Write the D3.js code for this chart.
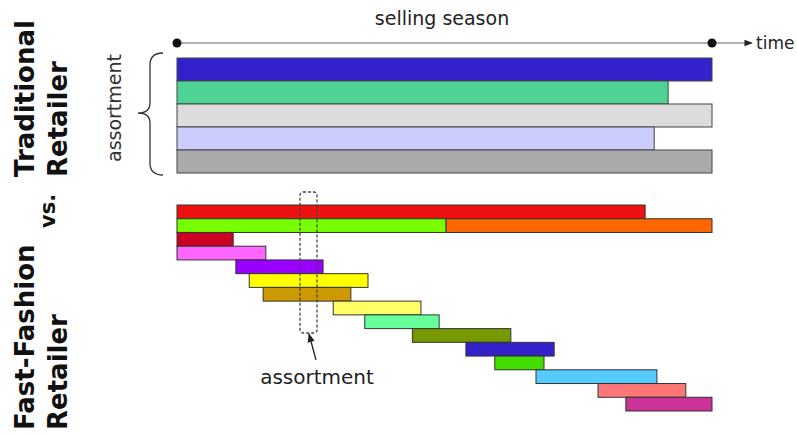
<!DOCTYPE html>
<html>
<head>
<meta charset="utf-8">
<script src="https://cdn.jsdelivr.net/npm/d3@7"></script>
<style>
  body { margin: 0; background: #fff; }
  svg { display: block; font-family: "DejaVu Sans", Verdana, sans-serif; }
</style>
</head>
<body>
<div id="chart"></div>
<script>
// time runs 0..100 across the selling season
var tradStart = [0, 0, 0, 0, 0];
var tradEnd = [100, 91.8, 100, 89.2, 100];
var tradColors = ["#3322cc", "#4fd394", "#dcdcdc", "#ccccff", "#aaaaaa"];

// fast-fashion rows: one or two items per row
var fastRow = [0, 1, 1, 2, 3, 4, 5, 6, 7, 8, 9, 10, 11, 12, 13, 14];
var fastStart = [0, 0, 50.3, 0, 0, 11, 13.5, 16.1, 29.2, 35.1, 44, 54, 59.4, 67.1, 78.7, 83.9];
var fastEnd = [87.5, 50.3, 100, 10.5, 16.6, 27.3, 35.7, 32.5, 45.6, 49, 62.4, 70.5, 68.6, 89.7, 95.1, 100];
var fastColors = ["#ee1111", "#77ff00", "#ff6600", "#cc0022", "#ff66ff", "#9900ff", "#ffff00",
    "#cc9900", "#ffff66", "#66ff99", "#779900", "#3322cc", "#44dd00", "#55ccff", "#ff7777", "#cc3399"];

const W = 797, H = 434;
var svg = d3.select("#chart").append("svg")
    .attr("width", W)
    .attr("height", H);

var x = d3.scaleLinear().domain([0, 100]).range([177, 712]);
var yTrad = d3.scaleBand().domain(d3.range(5)).range([58, 173]);
var yFast = d3.scaleBand().domain(d3.range(15)).range([205, 411]);

// timeline
svg.append("defs").append("marker")
    .attr("id", "arr")
    .attr("viewBox", "0 0 10 10")
    .attr("refX", 9).attr("refY", 5)
    .attr("markerWidth", 7).attr("markerHeight", 7)
    .attr("orient", "auto")
    .append("path").attr("d", "M0,1L10,5L0,9Z").attr("fill", "#222");

svg.append("line")
    .attr("x1", x(0)).attr("x2", 752)
    .attr("y1", 43).attr("y2", 43)
    .attr("stroke", "#666").attr("stroke-width", 1.2)
    .attr("marker-end", "url(#arr)");
svg.selectAll(".dot").data([0, 100]).enter().append("circle")
    .attr("cx", function(d) { return x(d); })
    .attr("cy", 43).attr("r", 4.5).attr("fill", "#111");

svg.append("text").attr("x", 442).attr("y", 25)
    .attr("text-anchor", "middle").attr("font-size", 19).attr("fill", "#222")
    .text("selling season");
svg.append("text").attr("x", 756).attr("y", 49)
    .attr("font-size", 17).attr("fill", "#222")
    .text("time");

// traditional bars
svg.selectAll(".trad").data(tradEnd).enter().append("rect")
    .attr("class", "trad")
    .attr("x", function(d, i) { return x(tradStart[i]); })
    .attr("y", function(d, i) { return yTrad(i); })
    .attr("width", function(d, i) { return x(d) - x(tradStart[i]); })
    .attr("height", yTrad.bandwidth())
    .attr("fill", function(d, i) { return tradColors[i]; })
    .attr("stroke", "#444").attr("stroke-width", 1);

// brace
var bx = 163, bt = 53, bb = 175, bm = 113, tip = 138;
svg.append("path")
    .attr("d", `M${bx},${bt} Q${bx - 13},${bt} ${bx - 13},${bt + 12} L${bx - 13},${bm - 10} Q${bx - 13},${bm} ${tip},${bm}` +
        ` Q${bx - 13},${bm} ${bx - 13},${bm + 10} L${bx - 13},${bb - 12} Q${bx - 13},${bb} ${bx},${bb}`)
    .attr("fill", "none").attr("stroke", "#333").attr("stroke-width", 1.3);

svg.append("text")
    .attr("transform", "translate(121,108) rotate(-90)")
    .attr("text-anchor", "middle").attr("font-size", 19).attr("fill", "#333")
    .text("assortment");

// fast fashion bars
svg.selectAll(".fast").data(fastEnd).enter().append("rect")
    .attr("class", "fast")
    .attr("x", function(d, i) { return x(fastStart[i]); })
    .attr("y", function(d, i) { return yFast(fastRow[i]); })
    .attr("width", function(d, i) { return x(d) - x(fastStart[i]); })
    .attr("height", yFast.bandwidth())
    .attr("fill", function(d, i) { return fastColors[i]; })
    .attr("stroke", "#333").attr("stroke-width", 1);

// dashed assortment window
svg.append("rect")
    .attr("x", 300).attr("y", 192).attr("width", 17).attr("height", 141)
    .attr("rx", 3)
    .attr("fill", "none").attr("stroke", "#444").attr("stroke-width", 1.3)
    .attr("stroke-dasharray", "3,2");
svg.append("line")
    .attr("x1", 316).attr("y1", 360).attr("x2", 309).attr("y2", 334)
    .attr("stroke", "#222").attr("stroke-width", 1.3)
    .attr("marker-end", "url(#arr)");
svg.append("text").attr("x", 317).attr("y", 384)
    .attr("text-anchor", "middle").attr("font-size", 20).attr("fill", "#222")
    .text("assortment");

// side titles
function sideTitle(tx, ty, txt, size) {
    svg.append("text")
        .attr("transform", `translate(${tx},${ty}) rotate(-90)`)
        .attr("font-size", size).attr("font-weight", "bold").attr("fill", "#111")
        .text(txt);
}
sideTitle(34, 177, "Traditional", 26);
sideTitle(67, 177, "Retailer", 26);
sideTitle(55, 228, "vs.", 21);
sideTitle(34, 430, "Fast-Fashion", 26);
sideTitle(67, 430, "Retailer", 26);
</script>
</body>
</html>
